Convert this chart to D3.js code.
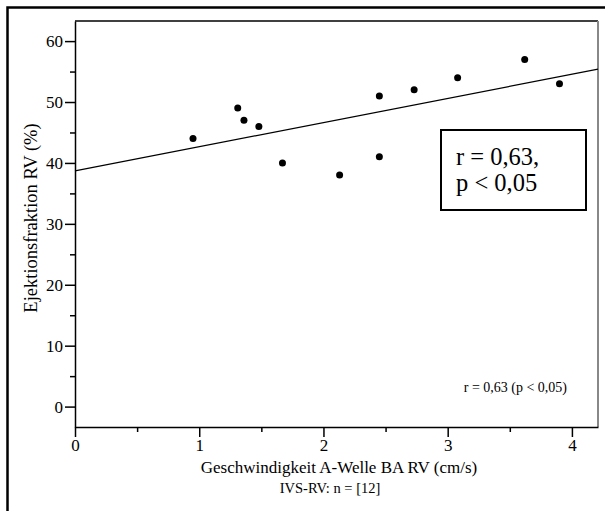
<!DOCTYPE html>
<html>
<head>
<meta charset="utf-8">
<script src="https://cdn.jsdelivr.net/npm/d3@7"></script>
<style>
	body { margin: 0; background: #fff; }
	svg, svg text { font-family: "Liberation Serif", Tinos, "Times New Roman", Times, "DejaVu Serif", serif; }
</style>
</head>
<body>
<script>
//chart values
var speed = [0.95, 1.31, 1.36, 1.48, 1.67, 2.13, 2.45, 2.45, 2.73, 3.08, 3.62, 3.90];
var ejection = [44, 49, 47, 46, 40, 38, 51, 41, 52, 54, 57, 53];
var xTicks = [0, 1, 2, 3, 4];
var yTicks = [0, 10, 20, 30, 40, 50, 60];
var statLines = ["r = 0,63,", "p < 0,05"];
var statNote = "r = 0,63 (p < 0,05)";
var xTitle = "Geschwindigkeit A-Welle BA RV (cm/s)";
var yTitle = "Ejektionsfraktion RV (%)";
var subTitle = "IVS-RV: n = [12]";

window.onload = drawChart();

function drawChart(){
	var width = 605,
		height = 511;

	var svg = d3.select("body")
		.append("svg")
		.attr("width", width)
		.attr("height", height);

	//outer frame, only left and top edges show
	svg.append("rect")
		.attr("x", 7.5)
		.attr("y", 7.5)
		.attr("width", 700)
		.attr("height", 700)
		.attr("fill", "none")
		.attr("stroke", "#000")
		.attr("stroke-width", 2.5);

	var left = 75, top = 21, right = 598, bottom = 427;

	var x = d3.scaleLinear()
		.domain([0, 4.21])
		.range([left, right]);

	var y = d3.scaleLinear()
		.domain([-3.35, 63.3])
		.range([bottom, top]);

	//plot box
	svg.append("line")
		.attr("x1", left).attr("x2", right)
		.attr("y1", top).attr("y2", top)
		.attr("stroke", "#000").attr("stroke-width", 1.5);
	svg.append("line")
		.attr("x1", right).attr("x2", right)
		.attr("y1", top).attr("y2", bottom)
		.attr("stroke", "#888").attr("stroke-width", 2);

	//minor ticks first, then major axes on top
	var xMinor = d3.axisBottom(x)
		.tickValues(d3.range(0.5, 4.2, 1))
		.tickSize(5)
		.tickFormat("");
	svg.append("g")
		.attr("transform", "translate(0," + bottom + ")")
		.call(xMinor)
		.call(function(g){ g.select(".domain").remove(); });

	var yMinor = d3.axisLeft(y)
		.tickValues(d3.range(5, 60, 10))
		.tickSize(5)
		.tickFormat("");
	svg.append("g")
		.attr("transform", "translate(" + left + ",0)")
		.call(yMinor)
		.call(function(g){ g.select(".domain").remove(); });

	var xAxis = d3.axisBottom(x)
		.tickValues(xTicks)
		.tickFormat(d3.format("d"))
		.tickSize(10)
		.tickPadding(2)
		.tickSizeOuter(0);
	svg.append("g")
		.attr("class", "xAxis")
		.attr("transform", "translate(0," + bottom + ")")
		.call(xAxis);

	var yAxis = d3.axisLeft(y)
		.tickValues(yTicks)
		.tickFormat(d3.format("d"))
		.tickSize(10)
		.tickPadding(2)
		.tickSizeOuter(0);
	svg.append("g")
		.attr("class", "yAxis")
		.attr("transform", "translate(" + left + ",0)")
		.call(yAxis);

	//d3 puts sans-serif on axis groups, take it off so css applies
	svg.selectAll(".xAxis, .yAxis")
		.attr("font-family", null)
		.attr("font-size", 17);
	svg.selectAll(".xAxis text, .yAxis text")
		.attr("fill", "#000");
	svg.selectAll(".domain, .tick line")
		.attr("stroke", "#000")
		.attr("stroke-width", 1.5);

	//regression line from least squares on the points
	var mx = d3.mean(speed), my = d3.mean(ejection);
	var sxy = d3.sum(speed, function(v, i){ return (v - mx) * (ejection[i] - my); });
	var sxx = d3.sum(speed, function(v){ return (v - mx) * (v - mx); });
	var slope = sxy / sxx,
		intercept = my - slope * mx;
	var xEnds = x.domain();

	svg.append("line")
		.attr("x1", x(xEnds[0]))
		.attr("y1", y(intercept + slope * xEnds[0]))
		.attr("x2", x(xEnds[1]))
		.attr("y2", y(intercept + slope * xEnds[1]))
		.attr("stroke", "#000")
		.attr("stroke-width", 1.2);

	//points
	svg.selectAll(".dot")
		.data(speed)
		.enter()
		.append("circle")
		.attr("class", "dot")
		.attr("cx", function(d){ return x(d); })
		.attr("cy", function(d, i){ return y(ejection[i]); })
		.attr("r", 3.5)
		.attr("fill", "#000");

	//stat box
	svg.append("rect")
		.attr("x", 441)
		.attr("y", 130)
		.attr("width", 145)
		.attr("height", 80)
		.attr("fill", "#fff")
		.attr("stroke", "#000")
		.attr("stroke-width", 2);

	svg.selectAll(".stat")
		.data(statLines)
		.enter()
		.append("text")
		.attr("class", "stat")
		.attr("x", 456)
		.attr("y", function(d, i){ return 165 + i * 26; })
		.attr("font-size", 24.5)
		.text(function(d){ return d; });

	svg.append("text")
		.attr("x", 567)
		.attr("y", 392)
		.attr("text-anchor", "end")
		.attr("font-size", 14)
		.text(statNote);

	//titles
	svg.append("text")
		.attr("x", 339)
		.attr("y", 473)
		.attr("text-anchor", "middle")
		.attr("font-size", 17)
		.text(xTitle);

	svg.append("text")
		.attr("x", 330)
		.attr("y", 493)
		.attr("text-anchor", "middle")
		.attr("font-size", 14.5)
		.text(subTitle);

	svg.append("text")
		.attr("transform", "translate(37,218) rotate(-90)")
		.attr("text-anchor", "middle")
		.attr("font-size", 18.5)
		.text(yTitle);
};
</script>
</body>
</html>
